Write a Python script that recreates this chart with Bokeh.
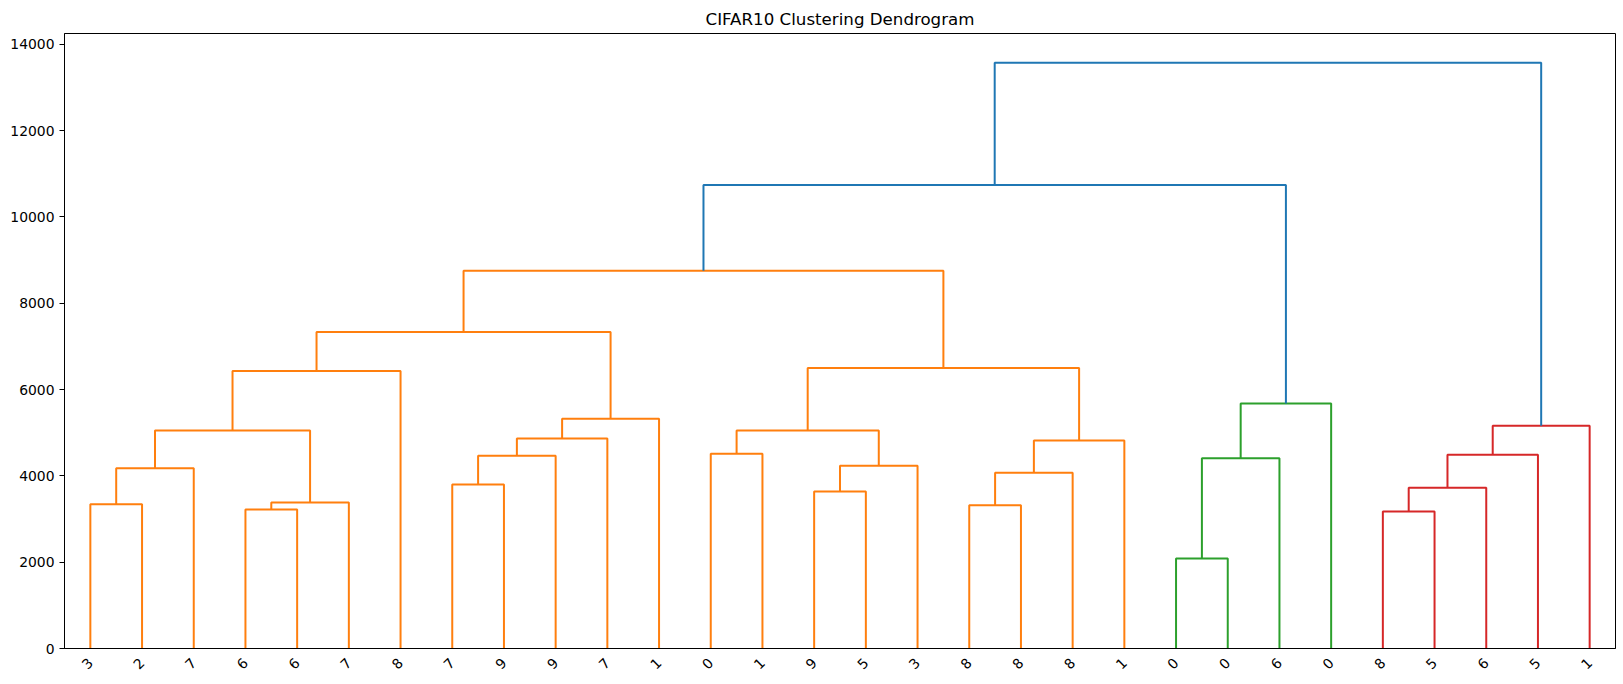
import math
from bokeh.plotting import figure
from bokeh.models import ColumnDataSource, Range1d, FixedTicker
from bokeh.embed import file_html
from bokeh.resources import INLINE

# Leaf labels in display order
leaf_labels = ["3", "2", "7", "6", "6", "7", "8", "7", "9", "9", "7", "1",
               "0", "1", "9", "5", "3", "8", "8", "8", "1",
               "0", "0", "6", "0", "8", "5", "6", "5", "1"]

# Merges: node ids 0..29 are leaves, merge k gets id 30+k
merge_left = [0, 30, 3, 32, 31, 34, 7, 36, 37, 38, 35,
              12, 14, 42, 41, 17, 45, 46, 44, 40,
              21, 50, 51, 49,
              25, 54, 55, 56, 53]
merge_right = [1, 2, 4, 5, 33, 6, 8, 9, 10, 11, 39,
               13, 15, 16, 43, 18, 19, 20, 47, 48,
               22, 23, 24, 52,
               26, 27, 28, 29, 57]
merge_height = [3342, 4174, 3219, 3381, 5052, 6430, 3797, 4467, 4867, 5322, 7330,
                4513, 3635, 4236, 5052, 3319, 4074, 4821, 6500, 8754,
                2087, 4405, 5676, 10738,
                3173, 3727, 4490, 5160, 13570]
merge_color = ["#ff7f0e"] * 20 + ["#2ca02c"] * 3 + ["#1f77b4"] + ["#d62728"] * 4 + ["#1f77b4"]

y_ticks = [0, 2000, 4000, 6000, 8000, 10000, 12000, 14000]

n = len(leaf_labels)
node_x = [5 + 10 * i for i in range(n)]
node_h = [0.0] * n
xs, ys = [], []
for a, b, h in zip(merge_left, merge_right, merge_height):
    xa, xb = node_x[a], node_x[b]
    xs.append([xa, xa, xb, xb])
    ys.append([node_h[a], h, h, node_h[b]])
    node_x.append((xa + xb) / 2.0)
    node_h.append(h)

src = ColumnDataSource(dict(xs=xs, ys=ys, color=merge_color))

ymax = max(merge_height) * 1.05
p = figure(width=1623, height=684, output_backend="svg", toolbar_location=None,
           x_range=Range1d(0, 10 * n), y_range=Range1d(0, ymax),
           title="CIFAR10 Clustering Dendrogram",
           min_border_left=64, min_border_right=8, min_border_top=33, min_border_bottom=36)

p.multi_line(xs="xs", ys="ys", line_color="color", line_width=2, source=src)

p.title.align = "center"
p.title.text_font = "DejaVu Sans"
p.title.text_font_style = "normal"
p.title.text_font_size = "16.67px"
p.title.text_color = "black"
p.title.standoff = 9

p.xgrid.visible = False
p.ygrid.visible = False
p.outline_line_color = "black"
p.outline_line_width = 1
p.outline_line_alpha = 1.0

tick_pos = [5 + 10 * i for i in range(n)]
p.xaxis.ticker = FixedTicker(ticks=tick_pos)
p.xaxis.major_label_overrides = {t: lab for t, lab in zip(tick_pos, leaf_labels)}
p.xaxis.major_label_orientation = math.pi / 4
p.xaxis.major_tick_line_color = None
p.xaxis.major_tick_out = 0
p.xaxis.major_tick_in = 0
p.xaxis.major_label_standoff = 12
p.xaxis.minor_tick_line_color = None
p.xaxis.axis_line_color = "black"

p.yaxis.ticker = FixedTicker(ticks=y_ticks)
p.yaxis.minor_tick_line_color = None
p.yaxis.major_tick_out = 5
p.yaxis.major_tick_in = 0
p.yaxis.major_label_standoff = 5
p.yaxis.axis_line_color = "black"
p.yaxis.major_tick_line_color = "black"

for ax in (p.xaxis, p.yaxis):
    ax.major_label_text_font = "DejaVu Sans"
    ax.major_label_text_font_size = "13.9px"
    ax.major_label_text_color = "black"

p.background_fill_color = "white"
p.border_fill_color = "white"

open("out.html", "w").write(file_html(p, INLINE))
